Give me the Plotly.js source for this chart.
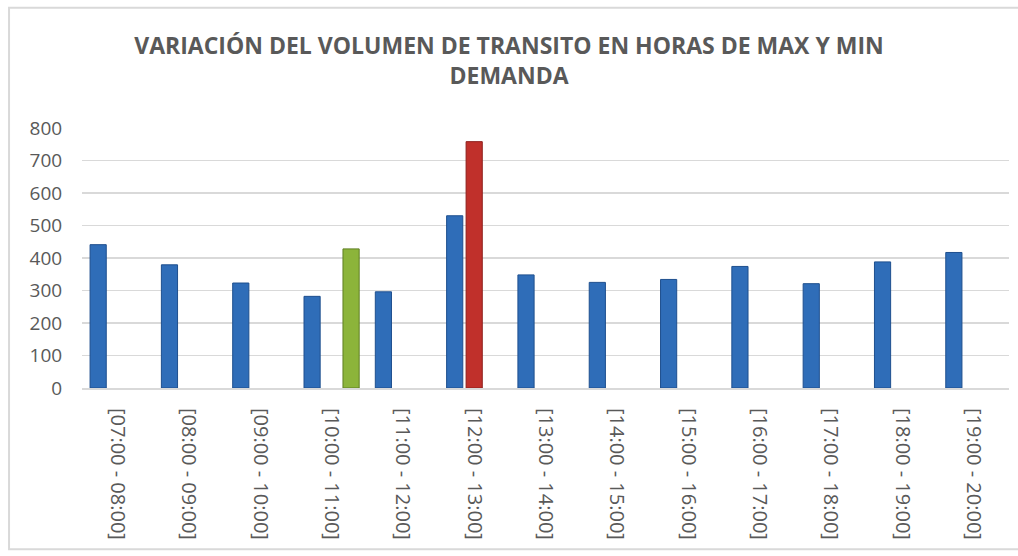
<!DOCTYPE html>
<html>
<head>
<meta charset="utf-8">
<script src="https://cdn.plot.ly/plotly-3.0.1.min.js"></script>
<style>
html,body{margin:0;padding:0;background:#fff;}
#chart{width:1018px;height:556px;}
</style>
</head>
<body>
<div id="chart"></div>
<script>
const categories = ["[07:00 - 08:00]","[08:00 - 09:00]","[09:00 - 10:00]","[10:00 - 11:00]","[11:00 - 12:00]","[12:00 - 13:00]","[13:00 - 14:00]","[14:00 - 15:00]","[15:00 - 16:00]","[16:00 - 17:00]","[17:00 - 18:00]","[18:00 - 19:00]","[19:00 - 20:00]"];
const volumen = [441, 379, 323, 282, 296, 530, 348, 325, 334, 374, 321, 388, 417];
const maxDemanda = [null, null, null, null, null, 758, null, null, null, null, null, null, null];
const minDemanda = [null, null, null, 428, null, null, null, null, null, null, null, null, null];
const yTicks = [0, 100, 200, 300, 400, 500, 600, 700, 800];

const txt = '#595959';
const font = 'Open Sans, Liberation Sans, sans-serif';

const traces = [
  {type:'bar', name:'Volumen', x:categories, y:volumen,
   marker:{color:'#2F6DB8', line:{color:'#1E4F8E', width:1}}},
  {type:'bar', name:'Máx', x:categories, y:maxDemanda,
   marker:{color:'#C0302B', line:{color:'#8E1F1C', width:1}}},
  {type:'bar', name:'Mín', x:categories, y:minDemanda,
   marker:{color:'#8CB43A', line:{color:'#5F7F22', width:1}}}
];

const layout = {
  width:1018, height:556,
  margin:{l:82, r:9, t:128, b:168, pad:0},
  paper_bgcolor:'#fff', plot_bgcolor:'#fff',
  showlegend:false,
  barmode:'group', bargap:0.18, bargroupgap:0.17,
  title:{text:'VARIACIÓN DEL VOLUMEN DE TRANSITO EN HORAS DE MAX Y MIN<br>DEMANDA',
         font:{family:font, size:23, color:txt, weight:'bold'},
         x:0.5, xref:'container', xanchor:'center', y:0.903, yref:'container', yanchor:'top'},
  xaxis:{type:'category', tickangle:90, tickfont:{family:font, size:20, color:txt},
         ticks:'outside', ticklen:14, tickcolor:'rgba(0,0,0,0)',
         showline:true, linecolor:'#d9d9d9', linewidth:2, showgrid:false, zeroline:false,
         fixedrange:true},
  yaxis:{range:[0,800], tickvals:yTicks, tickfont:{family:font, size:19, color:txt},
         ticks:'outside', ticklen:15, tickcolor:'rgba(0,0,0,0)',
         showgrid:true, gridcolor:'#d9d9d9', gridwidth:1.5, zeroline:false, showline:false,
         fixedrange:true},
  shapes:[{type:'rect', xref:'paper', yref:'paper', x0:-0.0787, x1:1.02, y0:-0.62, y1:1.4627,
           line:{color:'#d9d9d9', width:2}, fillcolor:'rgba(0,0,0,0)', layer:'below'}]
};

Plotly.newPlot('chart', traces, layout, {displayModeBar:false, staticPlot:true});
</script>
</body>
</html>
